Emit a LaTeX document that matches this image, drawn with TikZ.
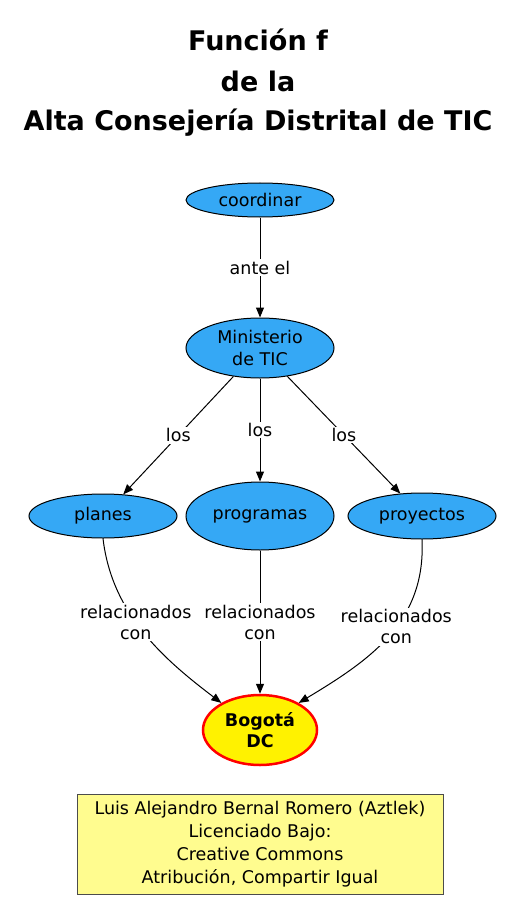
\documentclass[tikz,border=0pt]{standalone}
\usepackage{fontspec}
\setmainfont{DejaVu Sans}
\usetikzlibrary{shapes.geometric,arrows.meta}
\definecolor{nodeblue}{RGB}{53,168,245}
\definecolor{licyellow}{RGB}{255,252,143}
\begin{document}
\begin{tikzpicture}[x=1pt,y=-1pt,
  concept/.style={ellipse, draw=black, fill=nodeblue, inner sep=0pt, line width=1pt,
    font=\fontsize{17.5}{21.5}\selectfont, align=center},
  lab/.style={fill=white, inner sep=1.5pt, font=\fontsize{17.5}{21}\selectfont, align=center},
  arr/.style={-{Triangle[length=10pt,width=8pt]}, line width=1pt},
  ttl/.style={anchor=base, font=\fontsize{27}{39}\selectfont\bfseries}]
\useasboundingbox (0,0) rectangle (521,920);
% title
\node[ttl] (t1) at (258,51) {Función f};
\node[ttl] (t2) at (258,92) {de la};
\node[ttl] (t3) at (258,131) {Alta Consejería Distrital de TIC};
% nodes
\node[concept, minimum width=148, minimum height=34] (coord) at (260,200) {coordinar};
\node[concept, minimum width=148, minimum height=60] (min) at (260,348) {Ministerio\\de TIC};
\node[concept, minimum width=148, minimum height=44] (planes) at (103,516) {planes};
\node[concept, minimum width=148, minimum height=68] (prog) at (260,516) {programas};
\node[concept, minimum width=148, minimum height=46] (proy) at (422,516) {proyectos};
\node[ellipse, draw=red, fill=yellow, line width=2.5pt, inner sep=0pt,
  minimum width=114, minimum height=70, align=center,
  font=\fontsize{17.5}{21.5}\selectfont\bfseries] (bog) at (260,730) {Bogotá\\DC};
\node[draw=black!70, fill=licyellow, line width=1pt, minimum width=366, minimum height=100,
  inner sep=0pt, align=center, font=\fontsize{17.5}{23}\selectfont] (lic) at (260,844)
  {Luis Alejandro Bernal Romero (Aztlek)\\Licenciado Bajo:\\Creative Commons\\Atribución, Compartir Igual};
% edges
\draw[arr] (coord) -- node[lab]{ante el} (min);
\draw[arr] (min) -- node[lab]{los} (planes);
\draw[arr] (min) -- node[lab]{los} (prog);
\draw[arr] (min) -- node[lab]{los} (proy);
\draw[arr] (prog) -- node[lab]{relacionados\\con} (bog);
\draw[arr] (planes.south) .. controls (112,615) and (165,660) .. node[lab, pos=0.43]{relacionados\\con} (bog.145);
\draw[arr] (proy.south) .. controls (426,622) and (370,660) .. node[lab, pos=0.44]{relacionados\\con} (bog.35);
\end{tikzpicture}
\end{document}
